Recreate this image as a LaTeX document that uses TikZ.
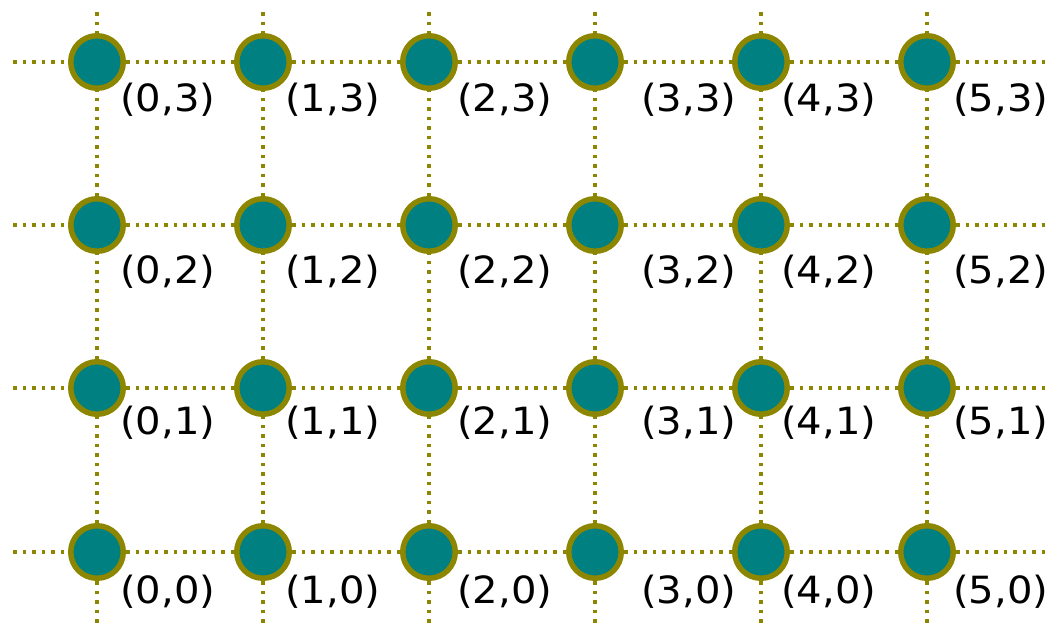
\documentclass[tikz,border=0pt]{standalone}
\usepackage{graphicx}
\usepackage{fontspec}
\setmainfont{DejaVu Sans}
\usetikzlibrary{backgrounds}

\begin{document}
\begin{tikzpicture}[
  x=1pt, y=-1pt,
  site/.style={circle, draw=olive, line width=5.5pt, fill=teal, minimum size=52.5pt, inner sep=0pt},
  tag/.style={anchor=west, inner sep=0pt, font=\fontsize{37.5}{40}\selectfont},
  bond/.style={draw=olive, line width=3.2pt, dash pattern=on 3.5pt off 6pt}
]
\useasboundingbox (0,0) rectangle (1061,627);

% lattice sites and their labels
\foreach \i/\x/\lx in {0/97/120, 1/263/285, 2/429/457, 3/595/641, 4/761/781, 5/927/953}
  \foreach \j/\y/\ly in {0/552/592, 1/388/423, 2/225/272, 3/62/100} {
    \node[site] (n\i\j) at (\x,\y) {};
    \node[tag] (t\i\j) at (\lx,\ly) {\scalebox{1.07}[1]{(\i,\j)}};
    \coordinate (l\j) at (13,\y);
    \coordinate (r\j) at (1050,\y);
    \coordinate (u\i) at (\x,12);
    \coordinate (d\i) at (\x,640);
  }

% dotted bonds behind the sites
\begin{scope}[on background layer]
\foreach \j in {0,...,3} {
  \draw[bond] (l\j) -- (n0\j);
  \foreach \i [evaluate=\i as \k using int(\i+1)] in {0,...,4}
    \draw[bond] (n\i\j) -- (n\k\j);
  \draw[bond] (n5\j) -- (r\j);
}
\foreach \i in {0,...,5} {
  \draw[bond] (u\i) -- (n\i3);
  \foreach \j [evaluate=\j as \k using int(\j+1)] in {0,...,2}
    \draw[bond] (n\i\j) -- (n\i\k);
  \draw[bond] (n\i0) -- (d\i);
}
\end{scope}
\end{tikzpicture}
\end{document}
